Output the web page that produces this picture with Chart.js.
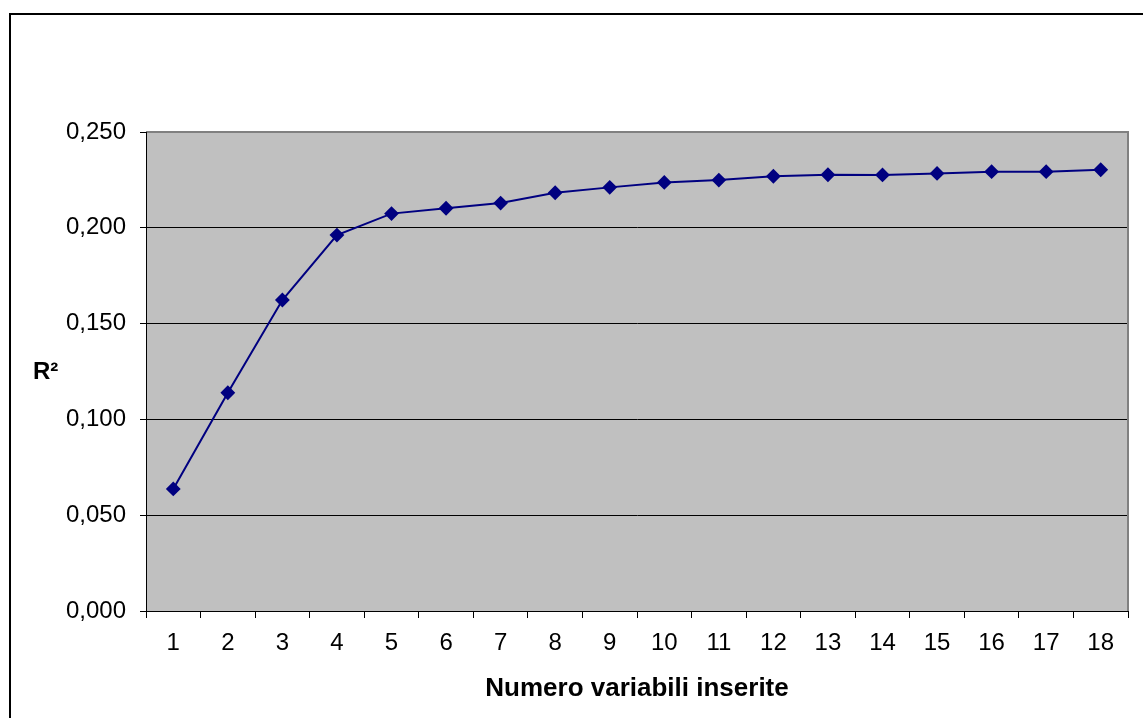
<!DOCTYPE html>
<html>
<head>
<meta charset="utf-8">
<script src="https://cdn.jsdelivr.net/npm/chart.js@4/dist/chart.umd.min.js"></script>
<style>
  html, body { margin: 0; padding: 0; background: #fff; }
  #wrap { width: 1143px; height: 718px; }
</style>
</head>
<body>
<div id="wrap"><canvas id="r2Chart" width="1143" height="718"></canvas></div>
<script>
// numero di variabili inserite nel modello
const categories = ["1","2","3","4","5","6","7","8","9","10","11","12","13","14","15","16","17","18"];
// R²
const r2Values = [0.0637, 0.1139, 0.1623, 0.1962, 0.2074, 0.2102, 0.2129, 0.2183, 0.2211,
                  0.2237, 0.2249, 0.2269, 0.2277, 0.2276, 0.2284, 0.2293, 0.2293, 0.2303];
const yTicks = [0, 0.05, 0.1, 0.15, 0.2, 0.25];
const yTickLabels = ["0,000", "0,050", "0,100", "0,150", "0,200", "0,250"];

const FONT = "Arial, 'Liberation Sans', sans-serif";

// bordo esterno, sfondo area grafico, titolo asse Y
const excelLook = {
  id: "excelLook",
  beforeDraw(chart) {
    const c = chart.ctx, a = chart.chartArea;
    c.save();
    c.fillStyle = "#c0c0c0";
    c.fillRect(a.left, a.top, a.right - a.left, a.bottom - a.top);
    c.strokeStyle = "#000";
    c.lineWidth = 2;
    c.strokeRect(10, 14, 1140, 720);
    c.restore();
  },
  afterDraw(chart) {
    const c = chart.ctx, a = chart.chartArea;
    c.save();
    c.strokeStyle = "#808080";
    c.lineWidth = 2;
    c.beginPath();
    c.moveTo(a.left, a.top);
    c.lineTo(a.right, a.top);
    c.lineTo(a.right, a.bottom);
    c.stroke();
    c.strokeStyle = "#000";
    c.lineWidth = 1;
    c.beginPath();
    c.moveTo(a.left + 0.5, a.top);
    c.lineTo(a.left + 0.5, a.bottom);
    c.stroke();
    c.fillStyle = "#000";
    c.font = "bold 24px " + FONT;
    c.textBaseline = "middle";
    c.textAlign = "left";
    c.fillText("R²", 33, 372);
    c.restore();
  }
};

const ctx = document.getElementById("r2Chart").getContext("2d");
const r2Chart = new Chart(ctx, {
  type: "line",
  data: {
    labels: categories,
    datasets: [{
      data: r2Values,
      borderColor: "#000080",
      backgroundColor: "#000080",
      borderWidth: 2,
      pointStyle: "rectRot",
      pointRadius: 6,
      pointHoverRadius: 6,
      tension: 0,
      clip: false
    }]
  },
  options: {
    responsive: false,
    animation: false,
    layout: { padding: { top: 132, right: 15, bottom: 0, left: 10 } },
    plugins: { legend: { display: false }, tooltip: { enabled: false } },
    scales: {
      x: {
        offset: true,
        grid: { offset: true, drawOnChartArea: false, color: "#000", tickLength: 7, tickWidth: 1 },
        border: { color: "#000", width: 1 },
        ticks: { color: "#000", font: { family: FONT, size: 24 }, padding: 11, maxRotation: 0 },
        title: {
          display: true,
          text: "Numero variabili inserite",
          color: "#000",
          font: { family: FONT, size: 26, weight: "bold" },
          padding: { top: 4, bottom: 14 }
        },
        afterFit(scale) { scale.height = 107; }
      },
      y: {
        min: 0,
        max: 0.25,
        afterBuildTicks(scale) { scale.ticks = yTicks.map(v => ({ value: v })); },
        grid: { color: "#000", lineWidth: 1, tickLength: 6, tickColor: "#000" },
        border: { color: "#000", width: 1 },
        ticks: {
          color: "#000",
          font: { family: FONT, size: 24 },
          padding: 14,
          callback(v) { return yTickLabels[yTicks.indexOf(v)]; }
        },
        afterFit(scale) { scale.width = 136; }
      }
    }
  },
  plugins: [excelLook]
});
</script>
</body>
</html>
